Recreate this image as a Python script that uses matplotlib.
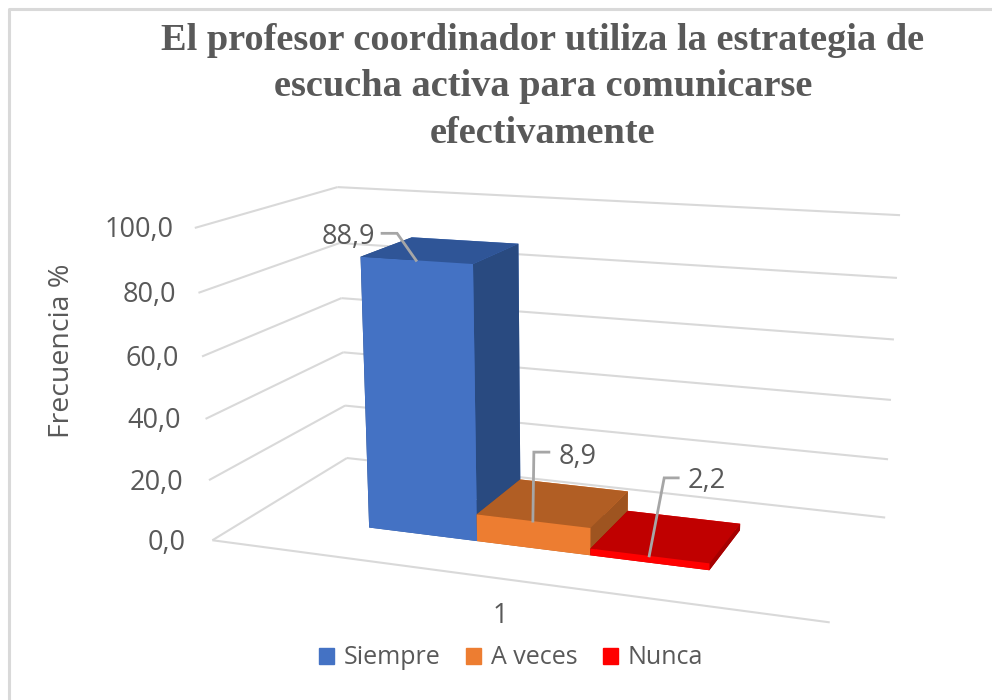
import numpy as np
import matplotlib
matplotlib.use('Agg')
import matplotlib.pyplot as plt
from matplotlib.patches import Patch
from mpl_toolkits.mplot3d.art3d import Line3DCollection

# data
series = ['Siempre', 'A veces', 'Nunca']
values = [88.9, 8.9, 2.2]
value_labels = ['88,9', '8,9', '2,2']
ticks = [0, 20, 40, 60, 80, 100]
tick_labels = ['0,0', '20,0', '40,0', '60,0', '80,0', '100,0']
category = '1'
title = 'El profesor coordinador utiliza la estrategia de\nescucha activa para comunicarse\nefectivamente'

# colours per bar: front, top, side
front = ['#4472C4', '#ED7D31', '#FF0000']
top = ['#2F5597', '#B15E24', '#C00000']
side = ['#294A80', '#9E5420', '#A50000']
grid_c = '#D9D9D9'
text_c = '#595959'
lead_c = '#A6A6A6'

# bar footprint on the floor (floor runs 0-1 both ways)
bar_x0 = 0.211
bar_w = 0.1922
bar_y0 = 0.295
bar_d = 0.405

# camera: wall corners (x, y, z) and where they land in the picture
cam_world = np.array([[0, 0, 0], [0, 0, 100], [0, 1, 0], [0, 1, 100],
                      [1, 1, 0], [1, 1, 100], [1, 0, 0],
                      [0, 0, 60], [0, 1, 60]], dtype=float)
cam_pix = np.array([[212, 540], [195, 228], [347, 458], [337, 187],
                    [885, 518], [900, 215], [830, 622],
                    [202, 357], [342, 298]], dtype=float)


def fit_camera(world, pix):
    A, b = [], []
    for (x, y, z), (u, v) in zip(world, pix):
        z = z / 100.
        A.append([x, y, z, 1, 0, 0, 0, 0, -u * x, -u * y, -u * z])
        A.append([0, 0, 0, 0, x, y, z, 1, -v * x, -v * y, -v * z])
        b += [u, v]
    p = np.linalg.lstsq(np.array(A), np.array(b), rcond=None)[0]
    r0 = [p[0], p[1], p[2] / 100., p[3]]
    r1 = [p[4], p[5], p[6] / 100., p[7]]
    r3 = [p[8], p[9], p[10] / 100., 1.]
    # third row only sorts faces: back, left and bottom are drawn first
    r2 = [-1., 1., -0.01, 0.]
    return np.array([r0, r1, r2, r3])


M = fit_camera(cam_world, cam_pix)


def to_pix(x, y, z):
    q = M @ np.array([x, y, z, 1.])
    return q[0] / q[3], q[1] / q[3]


fig = plt.figure(figsize=(9.92, 7), dpi=100, facecolor='white')
ax = fig.add_axes([0, 0, 1, 1], projection='3d')
ax.set_axis_off()
ax.computed_zorder = False
ax.get_proj = lambda: M
ax.apply_aspect = lambda position=None: None
ax.viewLim.intervalx = (0, 992)
ax.viewLim.intervaly = (700, 0)

# walls
segs = []
for t in ticks:
    segs.append([(0, 0, t), (0, 1, t)])
    segs.append([(0, 1, t), (1, 1, t)])
segs.append([(0, 0, 0), (1, 0, 0)])
walls = Line3DCollection(segs, colors=grid_c, linewidths=1.5, zorder=2)
ax.add_collection3d(walls)

# bars: faces are -z, +z, -y, +y, -x, +x
for i, v in enumerate(values):
    cols = [top[i], top[i], front[i], front[i], side[i], side[i]]
    col = ax.bar3d(bar_x0 + i * bar_w, bar_y0, 0, bar_w, bar_d, v,
                   color=cols, shade=False, linewidth=0)
    col.set_zorder(3 + i)

# 2d layer in picture pixels for text and leader lines
ov = fig.add_axes([0, 0, 1, 1], zorder=5)
ov.set_xlim(0, 992)
ov.set_ylim(700, 0)
ov.axis('off')

# frame: the crop only leaves top and left
ov.plot([8.5, 8.5, 992], [700, 8.5, 8.5], color=grid_c, lw=2.2)

ov.text(543, 87, title, ha='center', va='center', color=text_c, fontsize=27.6,
        fontweight='bold', family='Liberation Serif', linespacing=1.41)

for t, lab in zip(ticks, tick_labels):
    px, py = to_pix(0, 0, t)
    ov.text(px - 27 + 6 * t / 100., py + 2.5, lab, ha='right', va='center', color=text_c,
            fontsize=19.5, family='Open Sans')

ov.text(62, 351, 'Frecuencia %', rotation=90, ha='center', va='center',
        color=text_c, fontsize=20.5, family='Open Sans')
ov.text(500, 616, category, ha='center', va='center', color=text_c,
        fontsize=19.5, family='Open Sans')

# value labels with leader lines, offsets in pixels from the bar's front top edge
elbow = [(-19, -27), (1, -69), (15, -78)]
lead_end = [(-34, -27), (16, -69), (29, -78)]
lab_off = [(-68, -23), (45, -64), (58, -75)]
for i, v in enumerate(values):
    ax_x = bar_x0 + (i + 0.5) * bar_w
    px, py = to_pix(ax_x, bar_y0, v)
    ov.plot([px, px + elbow[i][0], px + lead_end[i][0]],
            [py, py + elbow[i][1], py + lead_end[i][1]],
            color=lead_c, lw=2, solid_joinstyle='miter')
    ov.text(px + lab_off[i][0], py + lab_off[i][1], value_labels[i], ha='center',
            va='center', color=text_c, fontsize=19.5, family='Open Sans')

handles = [Patch(color=c) for c in front]
ov.legend(handles, series, ncol=3, loc='center', bbox_to_anchor=(511, 658),
          bbox_transform=ov.transData, frameon=False, labelcolor=text_c,
          prop={'family': 'Open Sans', 'size': 18}, handlelength=0.6,
          handleheight=0.6, handletextpad=0.4, columnspacing=1.0,
          borderpad=0)

fig.savefig('out.png', dpi=100)
